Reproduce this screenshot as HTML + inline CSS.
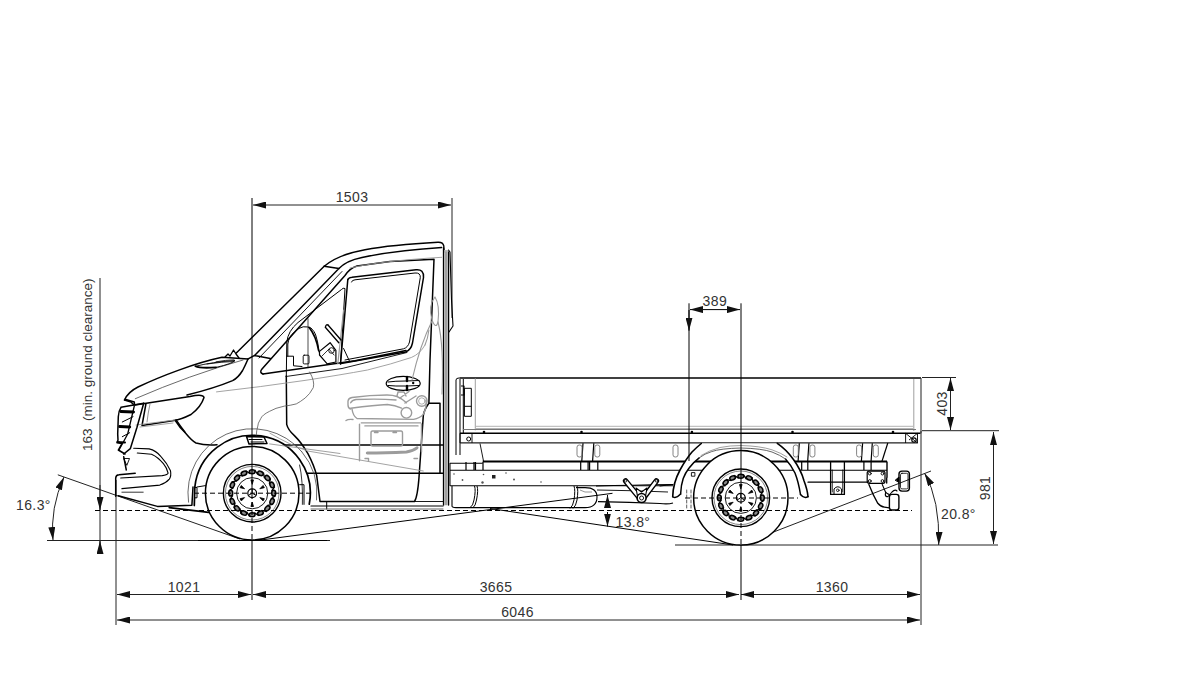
<!DOCTYPE html>
<html><head><meta charset="utf-8">
<style>
html,body{margin:0;padding:0;background:#fff;}
svg{display:block;}
text{font-family:"Liberation Sans",sans-serif;fill:#333;letter-spacing:0.4px;}
</style></head><body>
<svg width="1200" height="675" viewBox="0 0 1200 675">
<defs>
<marker id="ar" viewBox="0 0 13 7" refX="13" refY="3.5" markerWidth="13" markerHeight="7" markerUnits="userSpaceOnUse" orient="auto-start-reverse"><path d="M0,0L13,3.5L0,7z" fill="#111"/></marker>
</defs>
<g id="dims" stroke="#222" stroke-width="1" fill="none">
<!-- extension lines -->
<path d="M116,480V625M452,198V318M921,431V625M100,278V553"/>
<path d="M47,540.5H330M675,545H998M922,377.5H956M922,430.7H999"/>

<!-- dim lines -->
<path d="M253,205H451" marker-start="url(#ar)" marker-end="url(#ar)"/>
<path d="M117,594.5H251" marker-start="url(#ar)" marker-end="url(#ar)"/>
<path d="M253,594.5H739" marker-start="url(#ar)" marker-end="url(#ar)"/>
<path d="M741,594.5H920" marker-start="url(#ar)" marker-end="url(#ar)"/>
<path d="M117,620H920" marker-start="url(#ar)" marker-end="url(#ar)"/>
<path d="M950.5,378V430" marker-start="url(#ar)" marker-end="url(#ar)"/>
<path d="M993.5,432V544" marker-start="url(#ar)" marker-end="url(#ar)"/>
<path d="M100,485V510" marker-end="url(#ar)"/>
<path d="M100,553.5V541" marker-end="url(#ar)"/>
<path d="M57.8,474.8L240,539"/>
<path d="M64,477Q50,508 53,540" marker-start="url(#ar)" marker-end="url(#ar)"/>
<path d="M931,471L740,545"/>
<path d="M924.6,473.3Q940,500 938.7,545" marker-start="url(#ar)" marker-end="url(#ar)"/>
</g>
<g font-size="14">
<text x="352" y="201.5" text-anchor="middle">1503</text>
<text x="184" y="591.5" text-anchor="middle">1021</text>
<text x="496" y="591.5" text-anchor="middle">3665</text>
<text x="832" y="591.5" text-anchor="middle">1360</text>
<text x="517.5" y="616.5" text-anchor="middle">6046</text>
<text x="16" y="509.5">16.3°</text>
<text x="941" y="519">20.8°</text>
<text x="714.8" y="306" text-anchor="middle">389</text>
<text x="615.5" y="527">13.8°</text>
<text transform="translate(91.5,451) rotate(-90)" xml:space="preserve" style="letter-spacing:0;font-size:13.5px">163  (min. ground clearance)</text>
<text transform="translate(946.8,403.5) rotate(-90)" text-anchor="middle">403</text>
<text transform="translate(990,488) rotate(-90)" text-anchor="middle">981</text>
</g>

<g id="truck" fill="none" stroke="#000" stroke-linecap="round" stroke-linejoin="round">
<!-- ===== CAB thick ===== -->
<g stroke-width="1.5">
<path d="M124.5,400 Q128,392 138,387 C160,376.5 195,363 222,357.3 L248,359.1"/>
<path d="M124.5,400 L131,402 L134,405"/>
<path d="M247.7,359.8 Q245,366 242.6,370.5 Q238,378 232.6,380.6 Q215,388 187,395"/>
<path d="M135,405 L190,396.5 Q203,393.5 204,397.5 Q201,407 191,414.5 Q181,419.5 174,420.5 L142,425.5 L146,403.5"/>
<path d="M175.3,420.5 Q180,428 185,432.5 Q192,441 196,443 Q205,445.5 217,444.7"/>
<path d="M236.3,353 L324.2,266.3"/>
<path d="M247.7,359.2 L254.6,355.4 L338.9,268.6 M324.2,266.3 L338.9,268.6 M254.6,355.4 L270.3,358.6"/>
<path d="M324.2,266.3 C335,257 350,252.5 365,249.8 C385,246 410,243.8 437.9,242.3 Q443,242 443.8,246 L444,252" stroke-width="1.4"/>
<path d="M338.9,268.6 C345,262 352,259.5 362,257.5 C385,252.5 410,249.5 441.7,247.5" stroke-width="1.4"/>
<path d="M263,374 Q259,372.5 262,369 L345,275.5 Q350,268 357,266 L390,261.4 L434,259.3 L430,360 L428.9,403.3 Q424,410 423.3,415.6 L419,477.5 Q417.5,497 414.5,501.5 H320 L316.7,475.6 Q314,465 307.8,453.3 Q301,442 294.4,435.6 Q288,430 286.7,424.4 L286.3,376"/>
<path d="M263,374 L355,360.7 L406,350.5"/>
<path d="M347.8,279.5 Q349,277.5 352,277.3 L416,269.8 Q424,269 423.5,277.5 L412.5,343 Q411,350 405.6,352 L341,363.5"/>
<path d="M347.8,279.5 L340.5,364"/>
<path d="M428.9,403.3 H440 V473"/>
<path d="M443.6,248 V505 M448.5,252 V505"/>
<path d="M414.5,501.5 H443" stroke-width="0.9"/>
<path d="M311,506 H443" stroke-width="1.2"/>
<path d="M326.7,501.5 V509" stroke-width="1"/>
<path d="M284.4,445.1 H443.3 M306.7,473.3 H443.3"/>
</g>
<g stroke-width="1">
<path d="M286.3,376 L286.8,342 Q288,331 298,322.5 L341.5,289.5 Q343,287.5 345,288.5 L340.5,364"/>
<path d="M343.6,310 L337.8,363.9" stroke="#999" stroke-width="1.2"/>
<rect x="444.2" y="250" width="3.7" height="255" fill="#bbb" stroke="none"/>
<path d="M446,252 V505" stroke="#777" stroke-width="0.8"/>
<path d="M259,358 L342,271.5" stroke-width="0.9"/>
<path d="M448.5,250 L450,252 L451.5,300 L453,326 L449,332" stroke-width="1.1"/>
<path d="M351.5,282 Q352,280 355,279.8 L415,273 Q420.5,272.5 420.3,277.5 L409.5,342 Q408,347.5 403.5,348.8 L345,360"/>
<path d="M311,509 H443" stroke="#555" stroke-width="0.9"/>
<path d="M135.3,398.7 Q190,375 243,360" stroke="#444" stroke-width="0.8"/>
<path d="M150,404 Q148,413 147,422" stroke="#666" stroke-width="0.7"/>
</g>
<g stroke="#999" stroke-width="0.9">
<path d="M350,268 Q380,261 441.7,257.3"/>
<path d="M270,433.3 Q290,445 307.8,451 L423.3,471"/>
<path d="M216.5,391.9 Q260,387 305,380.4 Q340,375 367.5,370 Q392,364 411.3,357.5 Q420,354 425,345"/>
<path d="M175,420 L136,425 M140,427 L173,423"/>
</g>
</g>

<g id="front" fill="none" stroke="#000" stroke-linecap="round" stroke-linejoin="round">
<g stroke-width="1.5">
<path d="M125,399.3 L134.3,402 L134.5,404.5 M121,407.3 L143.7,403.3 M121,407.3 Q118.5,411 118.3,416.7 L117.7,434 L118,440 L117,442.7 L122,443.5 L118.3,450 L125,454 M123.7,456.7 L126.3,470"/>
<path d="M143.7,403.3 L137,427.3 L130.3,448.7 L123.7,454"/>
<path d="M121,411.5 L133.5,412 M119.7,426.5 L129.7,427" stroke-width="3"/>
<path d="M117.5,442 L125,442.5" stroke-width="2"/>
<path d="M115.7,496.3 V478 Q116,475 119,474.8 L135.2,473.2"/>
<path d="M118.3,495.8 L157.4,506.4 L191.9,505.2 L193,487"/>
<path d="M169.3,507.6 L208.5,512.4" stroke-width="1.8"/>
<path d="M176.1,419.9 Q181,427 185,432.3"/>
</g>
<g stroke-width="1">
<path d="M134.3,406 L127.7,434 L119,450" stroke-width="1.3"/>
<path d="M122.3,422 L133,416.7 M122.3,436.7 L129.7,432.7"/>
<path d="M121.9,492.2 L143.2,492.2" stroke-width="0.8"/>

<path d="M133.7,448.3 L149.1,448.9 Q156,450.5 161,456.6 Q167,463 170.5,470.8 Q171.5,476 169.3,479.1 Q166,483 159.8,485.1 L121.9,488.6" stroke-width="1.1"/>
<path d="M137.3,453 L151.5,454.2 Q158,457 163.4,463.7 Q167,468 168.1,473.2 Q167,475 162.2,475.6 L120.7,478" stroke-width="1.1"/>
<path d="M124,458.5 L129.5,458.5 L127,465 Z" stroke-width="0.9"/>
</g>

</g>


<g id="arch" fill="none" stroke="#000" stroke-linecap="round" stroke-linejoin="round">
<path d="M194.3,505.6 L194.82,487.15 A57.9,57.9 0 1 1 309.24,504.25" stroke-width="1.7"/>
<path d="M188.53,502.18 A64.5,64.5 0 0 1 301.81,451.74" stroke="#444" stroke-width="0.8"/>
<path d="M301.81,451.74 A64.5,64.5 0 0 1 316.55,499.94" stroke="#444" stroke-width="0.8"/>
<path d="M299.6,465 Q303,480 302.4,504.4" stroke-width="0.8"/>
<path d="M194.5,487.5 H197 V497.8 H194.5 M197,487 L205.5,485.6 M299.6,484.7 H304 V504.4" stroke-width="1"/>
<path d="M246.5,436.5 L264,437 L267,443.5 L249,444 Z" stroke-width="1.5"/>
<path d="M249,439.5 H262 M251,442 H264" stroke-width="1"/>
<path d="M269.6,443.9 L340,453.5" stroke="#888" stroke-width="0.8"/>
</g>

<g id="bed" fill="none" stroke="#000" stroke-linecap="butt" stroke-linejoin="round">
<!-- bed box -->
<path d="M459.3,378 H921" stroke-width="1.6"/>
<path d="M921,378 V433.3" stroke="#333" stroke-width="1.1"/>
<path d="M456,380 Q456,378 459,378" stroke-width="1"/>
<path d="M456,380 V455 M460,379 V455 M463.3,379 V433" stroke-width="1"/>
<path d="M475.3,378 V430.3" stroke="#888" stroke-width="0.8"/>
<path d="M913.8,379 V431" stroke="#888" stroke-width="0.8"/>
<path d="M464.4,388.3 H471.3 V416.3 H464.4 Z M464.4,406.3 H471.3" stroke-width="1"/>
<path d="M461,386 H464 V395 H461" stroke-width="1.2"/>
<path d="M476,426.3 H913 M476,428.5 H913" stroke="#aaa" stroke-width="0.9"/>
<path d="M463,429.5 H916" stroke="#777" stroke-width="1"/>
<path d="M460,433.3 H920.4" stroke-width="1.4"/>
<path d="M460,442.9 H917.5" stroke="#222" stroke-width="1.1"/>
<path d="M460,433.3 V442.9 M472,433.3 V442.9" stroke-width="0.9"/>
<circle cx="468.7" cy="439" r="2" stroke-width="1"/>
<path d="M905.6,433.3 V443 M917.5,433.3 V443 M905.6,433.3 L917.5,443 M917.5,433.3 L909,440" stroke-width="0.9"/>
<circle cx="914" cy="440" r="2.2" stroke-width="1.2"/>
<g fill="#000" stroke="none"><circle cx="484" cy="432" r="1.3"/><circle cx="581.5" cy="432" r="1.3"/><circle cx="691.9" cy="432" r="1.3"/><circle cx="792.5" cy="432" r="1.3"/><circle cx="893" cy="432" r="1.3"/></g>
<!-- posts under bed -->
<g>
<path d="M480,443.5 L483.5,461" stroke-width="0.9"/>
<path d="M583,443.3 L581.8,461 M593.8,443.3 L592.5999999999999,461" stroke-width="1.2"/>
<rect x="577" y="445" width="5" height="12" rx="2.2" stroke="#777" stroke-width="0.9"/>
<rect x="594.8" y="445" width="5" height="12" rx="2.2" stroke="#777" stroke-width="0.9"/>
<path d="M799.3,443.3 L798.0999999999999,461 M808.9,443.3 L807.6999999999999,461" stroke-width="1.2"/>
<rect x="793.3" y="445" width="5" height="12" rx="2.2" stroke="#777" stroke-width="0.9"/>
<rect x="809.9" y="445" width="5" height="12" rx="2.2" stroke="#777" stroke-width="0.9"/>
<path d="M862.6,443.3 L861.4,461 M872.3,443.3 L871.0999999999999,461" stroke-width="1.2"/>
<rect x="856.6" y="445" width="5" height="12" rx="2.2" stroke="#777" stroke-width="0.9"/>
<rect x="873.3" y="445" width="5" height="12" rx="2.2" stroke="#777" stroke-width="0.9"/>
<rect x="673" y="445" width="5" height="12" rx="2.2" stroke="#777" stroke-width="0.9"/>
<path d="M887.8,443 L881.9,461.5" stroke-width="1.2"/>
</g>
<!-- subframe -->
<path d="M482.7,461.5 H887" stroke-width="2"/>
<path d="M450,463.2 H482.7 M450,470.2 H887" stroke-width="1.1"/>
<path d="M887,461.5 V477.8" stroke-width="1.4"/>
<path d="M466,462 V470 M474,462 V470 M475.5,462 V470 M483,462 V470 M580.7,462 V470 M588.1,462 V470 M589.6,462 V470 M597.8,462 V470 M801.7,462 V470 M807.8,462 V470 M863.9,462 V470 M871.1,462 V470" stroke-width="1.2"/>
<!-- frame -->
<path d="M450,485.7 H673" stroke-width="1.1"/>
<path d="M450,463 V486" stroke-width="1"/>
<g fill="#555" stroke="none"><rect x="492" y="475" width="3.5" height="3.5" fill="#222"/><circle cx="454" cy="474" r="0.8"/><circle cx="462.5" cy="480" r="0.9"/><circle cx="483.5" cy="474.5" r="0.8"/><circle cx="482.5" cy="482.5" r="1.2"/><circle cx="506" cy="473" r="0.8"/><circle cx="514" cy="479.5" r="1"/><circle cx="541" cy="482" r="0.8"/></g>
<!-- tank -->
<path d="M452,486 V506 Q452,507.6 456,507.6 H585 Q597,507.6 597,497 Q597,487.6 585,487.6 H576" stroke-width="1.1"/>
<path d="M474.5,486 Q476,490 474,500 Q473,506 470,507.6 M477,486 Q478.5,490 476.5,500 Q475.5,506 473,507.6" stroke-width="1"/>
<path d="M574,486 Q575.5,490 574,500 Q573,506 570,508.5 M577,486 Q578.5,490 577,500 Q576,506 573,508.5" stroke-width="1"/>
<path d="M580,490 L585,492 H592" stroke="#666" stroke-width="0.7"/>
<!-- leaf spring / rear chassis -->
<path d="M596,486 Q630,485 673,484.5" stroke-width="1.2"/>
<path d="M597,490 Q635,490.5 668,492" stroke-width="0.9"/>
<path d="M598,501.6 Q630,502 660,503.5 Q668,504.5 673,503" stroke-width="1.2"/>
<path d="M625.6,480.9 L638,496 M656.4,480.9 L645,496" stroke-width="5.5" stroke-linecap="round"/>
<path d="M625.6,480.9 L638,496 M656.4,480.9 L645,496" stroke="#fff" stroke-width="2.8" stroke-linecap="round"/>
<path d="M636,488 L641.5,492 L647,488 L645,499 H638 Z" fill="#fff" stroke-width="1.1"/>
<circle cx="641.6" cy="498" r="4.5" stroke-width="1.6" fill="#fff"/>
<circle cx="641.6" cy="498" r="2" stroke-width="0.9"/>
<circle cx="625.6" cy="480.9" r="1.2" stroke-width="0.8"/>
<circle cx="656.4" cy="480.9" r="1.2" stroke-width="0.8"/>
<path d="M697,463 L680,469.6 H700" stroke-width="0"/>
<rect x="691.4" y="472.6" width="3.5" height="3.6" stroke-width="0.9"/>
</g>

<g id="rear" fill="none" stroke="#000" stroke-linecap="round" stroke-linejoin="round">
<!-- rear fender -->
<path d="M672.7,496.7 Q673,483 680,470 Q686,459 692,452 Q697,447 701.3,443.5 H777.3 Q787,450 793.3,459.3 Q801,470 804,480.7 Q807.5,490 808,496.7 Q804,499 800.5,494.5 Q798.5,482 795,473 Q791,465 785.5,459 Q780,455 772,452 Q762,448.5 741,448 Q720,448.5 711.7,451.6 Q705,453.5 699.2,457.8 Q693.5,462 688.9,468.2 Q685.5,472.5 683.2,478.6 Q681,485 680.6,494.1 Q676,499 672.7,496.7 Z" fill="#fff" stroke="none"/>
<path d="M672.7,496.7 Q673,483 680,470 Q686,459 692,452 Q697,447 701.3,443.5" stroke-width="1.6"/>
<path d="M777.3,443.3 Q787,450 793.3,459.3 Q801,470 804,480.7 Q807.5,490 808,496.7" stroke-width="1.6"/>
<path d="M680.6,494.1 Q681,485 683.2,478.6 Q685.5,472.5 688.9,468.2 Q693.5,462 699.2,457.8 M785.5,459 Q791,465 795,473 Q798.5,482 800.5,494.5" stroke-width="1.5"/>
<path d="M699.2,457.8 Q705,453.5 711.7,451.6 Q720,448.5 741,448 Q762,448.5 772,452 Q780,455 785.5,459" stroke="#555" stroke-width="0.9"/>
<path d="M701,455.5 Q709,450.5 720,447.5 Q730,445.5 741,445.5 Q760,446 772,449.8 Q781,453 787,457" stroke="#777" stroke-width="0.7"/>
<path d="M672.7,496.7 Q676,499 680.6,494.1 M808,496.7 Q804,499 800.5,494.5" stroke-width="1.4"/>

<!-- frame behind wheel -->
<path d="M808,482.2 H867.8" stroke-width="1.2"/>
<path d="M660,486 Q667,485 673,484.5" stroke-width="1"/>
<path d="M686.7,490 V508 M691,490 V508" stroke="#333" stroke-width="0.8" stroke-dasharray="3,2"/>
<!-- crossmember hanger -->
<path d="M830.6,462.5 V494.4 H844.4 V462.5" stroke-width="1.3"/>
<path d="M832.3,470 V492 M842.7,470 V492" stroke-width="0.8"/>
<path d="M834,494 V489 Q837.8,484.5 841.6,489 V494" stroke-width="1"/>
<circle cx="837.8" cy="490.3" r="1.3" stroke-width="0.8"/>
<!-- hitch plate -->
<rect x="867.2" y="471.1" width="17.8" height="12.2" rx="2" stroke-width="1.2"/>
<g stroke-width="0.9"><circle cx="869.8" cy="473.6" r="1.4"/><circle cx="882.5" cy="473.6" r="1.4"/><circle cx="869.8" cy="481" r="1.4"/><circle cx="882.5" cy="481" r="1.4"/></g>
<path d="M886.7,477.8 V483" stroke-width="1.3"/>
<path d="M868.9,484.4 Q873,495 877.8,503.3 Q881,507 884.4,507.2 L889.4,507.8" stroke-width="1.3"/>
<path d="M882.2,484.4 L885.6,492.2 Q887,494 889,494.4" stroke-width="1.1"/>
<path d="M885.6,492 Q884.5,497.5 888,496.5 L892,492 Q895,489 897,491" stroke-width="1.1"/>
<rect x="889.4" y="494.4" width="9.5" height="15.6" rx="2.5" stroke-width="1.4"/>
<rect x="899" y="471.1" width="10.4" height="20" rx="3" stroke-width="1.4"/>
<rect x="900.5" y="473.3" width="7.5" height="15.6" rx="1.5" stroke-width="0.8"/>
<path d="M895.5,480 L899,477 V482 Z" stroke-width="1" fill="#000"/>
</g>
<g id="wheels" fill="none" stroke="#000">
<circle cx="252.2" cy="493.2" r="46.8" stroke-width="1.5" fill="#fff"/>
<circle cx="252.2" cy="493.2" r="28.8" stroke-width="1.4"/>
<circle cx="252.2" cy="493.2" r="26.8" stroke-width="0.8" stroke="#666"/>
<circle cx="252.2" cy="493.2" r="15.6" stroke-width="0.9"/>
<circle cx="252.2" cy="493.2" r="4.4" stroke-width="1.2"/>
<path d="M252.2,493.2L252.20,488.80M252.2,493.2L256.01,495.40M252.2,493.2L248.39,495.40" stroke-width="1"/>
<ellipse cx="252.20" cy="471.70" rx="2.9" ry="2.0" transform="rotate(0.0 252.20 471.70)" stroke-width="1.5" fill="#888"/>
<path d="M254.69,469.83L257.71,474.49" stroke-width="1.3"/>
<ellipse cx="260.43" cy="473.34" rx="2.9" ry="2.0" transform="rotate(22.5 260.43 473.34)" stroke-width="1.5" fill="#888"/>
<path d="M263.45,472.57L264.45,478.03" stroke-width="1.3"/>
<ellipse cx="267.40" cy="478.00" rx="2.9" ry="2.0" transform="rotate(45.0 267.40 478.00)" stroke-width="1.5" fill="#888"/>
<path d="M270.49,478.44L269.32,483.87" stroke-width="1.3"/>
<ellipse cx="272.06" cy="484.97" rx="2.9" ry="2.0" transform="rotate(67.5 272.06 484.97)" stroke-width="1.5" fill="#888"/>
<path d="M274.74,486.56L271.59,491.13" stroke-width="1.3"/>
<ellipse cx="273.70" cy="493.20" rx="2.9" ry="2.0" transform="rotate(90.0 273.70 493.20)" stroke-width="1.5" fill="#888"/>
<path d="M275.57,495.69L270.91,498.71" stroke-width="1.3"/>
<ellipse cx="272.06" cy="501.43" rx="2.9" ry="2.0" transform="rotate(112.5 272.06 501.43)" stroke-width="1.5" fill="#888"/>
<path d="M272.83,504.45L267.37,505.45" stroke-width="1.3"/>
<ellipse cx="267.40" cy="508.40" rx="2.9" ry="2.0" transform="rotate(135.0 267.40 508.40)" stroke-width="1.5" fill="#888"/>
<path d="M266.96,511.49L261.53,510.32" stroke-width="1.3"/>
<ellipse cx="260.43" cy="513.06" rx="2.9" ry="2.0" transform="rotate(157.5 260.43 513.06)" stroke-width="1.5" fill="#888"/>
<path d="M258.84,515.74L254.27,512.59" stroke-width="1.3"/>
<ellipse cx="252.20" cy="514.70" rx="2.9" ry="2.0" transform="rotate(180.0 252.20 514.70)" stroke-width="1.5" fill="#888"/>
<path d="M249.71,516.57L246.69,511.91" stroke-width="1.3"/>
<ellipse cx="243.97" cy="513.06" rx="2.9" ry="2.0" transform="rotate(202.5 243.97 513.06)" stroke-width="1.5" fill="#888"/>
<path d="M240.95,513.83L239.95,508.37" stroke-width="1.3"/>
<ellipse cx="237.00" cy="508.40" rx="2.9" ry="2.0" transform="rotate(225.0 237.00 508.40)" stroke-width="1.5" fill="#888"/>
<path d="M233.91,507.96L235.08,502.53" stroke-width="1.3"/>
<ellipse cx="232.34" cy="501.43" rx="2.9" ry="2.0" transform="rotate(247.5 232.34 501.43)" stroke-width="1.5" fill="#888"/>
<path d="M229.66,499.84L232.81,495.27" stroke-width="1.3"/>
<ellipse cx="230.70" cy="493.20" rx="2.9" ry="2.0" transform="rotate(270.0 230.70 493.20)" stroke-width="1.5" fill="#888"/>
<path d="M228.83,490.71L233.49,487.69" stroke-width="1.3"/>
<ellipse cx="232.34" cy="484.97" rx="2.9" ry="2.0" transform="rotate(292.5 232.34 484.97)" stroke-width="1.5" fill="#888"/>
<path d="M231.57,481.95L237.03,480.95" stroke-width="1.3"/>
<ellipse cx="237.00" cy="478.00" rx="2.9" ry="2.0" transform="rotate(315.0 237.00 478.00)" stroke-width="1.5" fill="#888"/>
<path d="M237.44,474.91L242.87,476.08" stroke-width="1.3"/>
<ellipse cx="243.97" cy="473.34" rx="2.9" ry="2.0" transform="rotate(337.5 243.97 473.34)" stroke-width="1.5" fill="#888"/>
<path d="M245.56,470.66L250.13,473.81" stroke-width="1.3"/>
<path d="M253.50,479.90L250.90,479.90L252.20,484.40Z" stroke-width="0.8" fill="#000"/>
<path d="M264.37,487.68L263.07,485.42L259.82,488.80Z" stroke-width="0.8" fill="#000"/>
<path d="M263.07,500.98L264.37,498.72L259.82,497.60Z" stroke-width="0.8" fill="#000"/>
<path d="M250.90,506.50L253.50,506.50L252.20,502.00Z" stroke-width="0.8" fill="#000"/>
<path d="M240.03,498.72L241.33,500.98L244.58,497.60Z" stroke-width="0.8" fill="#000"/>
<path d="M241.33,485.42L240.03,487.68L244.58,488.80Z" stroke-width="0.8" fill="#000"/>
<circle cx="740.8" cy="497.8" r="47.2" stroke-width="1.5" fill="#fff"/>
<circle cx="740.8" cy="497.8" r="28.8" stroke-width="1.4"/>
<circle cx="740.8" cy="497.8" r="26.8" stroke-width="0.8" stroke="#666"/>
<circle cx="740.8" cy="497.8" r="15.6" stroke-width="0.9"/>
<circle cx="740.8" cy="497.8" r="4.4" stroke-width="1.2"/>
<path d="M740.8,497.8L740.80,493.40M740.8,497.8L744.61,500.00M740.8,497.8L736.99,500.00" stroke-width="1"/>
<ellipse cx="740.80" cy="476.30" rx="2.9" ry="2.0" transform="rotate(0.0 740.80 476.30)" stroke-width="1.5" fill="#888"/>
<path d="M743.29,474.43L746.31,479.09" stroke-width="1.3"/>
<ellipse cx="749.03" cy="477.94" rx="2.9" ry="2.0" transform="rotate(22.5 749.03 477.94)" stroke-width="1.5" fill="#888"/>
<path d="M752.05,477.17L753.05,482.63" stroke-width="1.3"/>
<ellipse cx="756.00" cy="482.60" rx="2.9" ry="2.0" transform="rotate(45.0 756.00 482.60)" stroke-width="1.5" fill="#888"/>
<path d="M759.09,483.04L757.92,488.47" stroke-width="1.3"/>
<ellipse cx="760.66" cy="489.57" rx="2.9" ry="2.0" transform="rotate(67.5 760.66 489.57)" stroke-width="1.5" fill="#888"/>
<path d="M763.34,491.16L760.19,495.73" stroke-width="1.3"/>
<ellipse cx="762.30" cy="497.80" rx="2.9" ry="2.0" transform="rotate(90.0 762.30 497.80)" stroke-width="1.5" fill="#888"/>
<path d="M764.17,500.29L759.51,503.31" stroke-width="1.3"/>
<ellipse cx="760.66" cy="506.03" rx="2.9" ry="2.0" transform="rotate(112.5 760.66 506.03)" stroke-width="1.5" fill="#888"/>
<path d="M761.43,509.05L755.97,510.05" stroke-width="1.3"/>
<ellipse cx="756.00" cy="513.00" rx="2.9" ry="2.0" transform="rotate(135.0 756.00 513.00)" stroke-width="1.5" fill="#888"/>
<path d="M755.56,516.09L750.13,514.92" stroke-width="1.3"/>
<ellipse cx="749.03" cy="517.66" rx="2.9" ry="2.0" transform="rotate(157.5 749.03 517.66)" stroke-width="1.5" fill="#888"/>
<path d="M747.44,520.34L742.87,517.19" stroke-width="1.3"/>
<ellipse cx="740.80" cy="519.30" rx="2.9" ry="2.0" transform="rotate(180.0 740.80 519.30)" stroke-width="1.5" fill="#888"/>
<path d="M738.31,521.17L735.29,516.51" stroke-width="1.3"/>
<ellipse cx="732.57" cy="517.66" rx="2.9" ry="2.0" transform="rotate(202.5 732.57 517.66)" stroke-width="1.5" fill="#888"/>
<path d="M729.55,518.43L728.55,512.97" stroke-width="1.3"/>
<ellipse cx="725.60" cy="513.00" rx="2.9" ry="2.0" transform="rotate(225.0 725.60 513.00)" stroke-width="1.5" fill="#888"/>
<path d="M722.51,512.56L723.68,507.13" stroke-width="1.3"/>
<ellipse cx="720.94" cy="506.03" rx="2.9" ry="2.0" transform="rotate(247.5 720.94 506.03)" stroke-width="1.5" fill="#888"/>
<path d="M718.26,504.44L721.41,499.87" stroke-width="1.3"/>
<ellipse cx="719.30" cy="497.80" rx="2.9" ry="2.0" transform="rotate(270.0 719.30 497.80)" stroke-width="1.5" fill="#888"/>
<path d="M717.43,495.31L722.09,492.29" stroke-width="1.3"/>
<ellipse cx="720.94" cy="489.57" rx="2.9" ry="2.0" transform="rotate(292.5 720.94 489.57)" stroke-width="1.5" fill="#888"/>
<path d="M720.17,486.55L725.63,485.55" stroke-width="1.3"/>
<ellipse cx="725.60" cy="482.60" rx="2.9" ry="2.0" transform="rotate(315.0 725.60 482.60)" stroke-width="1.5" fill="#888"/>
<path d="M726.04,479.51L731.47,480.68" stroke-width="1.3"/>
<ellipse cx="732.57" cy="477.94" rx="2.9" ry="2.0" transform="rotate(337.5 732.57 477.94)" stroke-width="1.5" fill="#888"/>
<path d="M734.16,475.26L738.73,478.41" stroke-width="1.3"/>
<path d="M742.10,484.50L739.50,484.50L740.80,489.00Z" stroke-width="0.8" fill="#000"/>
<path d="M752.97,492.28L751.67,490.02L748.42,493.40Z" stroke-width="0.8" fill="#000"/>
<path d="M751.67,505.58L752.97,503.32L748.42,502.20Z" stroke-width="0.8" fill="#000"/>
<path d="M739.50,511.10L742.10,511.10L740.80,506.60Z" stroke-width="0.8" fill="#000"/>
<path d="M728.63,503.32L729.93,505.58L733.18,502.20Z" stroke-width="0.8" fill="#000"/>
<path d="M729.93,490.02L728.63,492.28L733.18,493.40Z" stroke-width="0.8" fill="#000"/>
</g>
<g id="overlines" fill="none" stroke="#000" stroke-width="1">
<path d="M252,198V493M741,303.3V498"/>
<path d="M252,494V540M741,499V545" stroke-dasharray="5,3"/>
<path d="M252,540V600M741,545V600"/>
<path d="M95,510.5H912" stroke-dasharray="5,3"/>
<path d="M194,493.2H311M685,498H798" stroke-dasharray="5,3"/>
</g>
<g id="angles" fill="none" stroke="#000" stroke-width="1">
<path d="M258,540.4 L612.5,493.3"/>
<path d="M490,508.5 L733,545"/>
<path d="M198,540.5 H327" />
<path d="M607.5,508 V495" marker-end="url(#ar)"/>
<path d="M607.5,512 V526.5" marker-end="url(#ar)"/>
<!-- 389 dim -->
<path d="M690,309.6 H740" marker-start="url(#ar)" marker-end="url(#ar)"/>
<path d="M689,303.3 V461"/>
<path d="M689,310 V330.7" marker-end="url(#ar)"/>
</g>

<g id="details" fill="none" stroke="#000" stroke-linecap="round" stroke-linejoin="round">
<!-- hood vent & wiper -->
<path d="M195.4,366.3 Q200,368.5 216,367.4" stroke-width="1.8"/>
<path d="M195.4,366.3 Q212,362 235,360.5 Q233,363.5 216,367.4" stroke-width="0.9"/>
<path d="M207,364 Q222,361.8 234,361.5 M216,361.8 Q226,360 234,359.8" stroke-width="0.8"/>
<path d="M225,357 L228,354 L230,356 L233.5,350 L236,354 L239,358" stroke-width="1.3"/>
<!-- mirror / seat through window -->
<path d="M287.8,356.2 V344 Q289,336 294.5,332 Q299,327.5 303.2,326.8 Q308,326.5 311,328 Q315,332 315.7,335 Q318,342 318.6,348.5 L319,352" stroke-width="1"/>
<path d="M309,327.3 Q316,336 318.6,350.4" stroke-width="1.7"/>
<path d="M308,318.7 V367.7" stroke-width="0.7"/>
<path d="M286.8,356.2 H293.5 V365.8 L302,366.5" stroke-width="1"/>
<rect x="303.2" y="355.2" width="5.8" height="8.7" rx="1" stroke-width="0.9"/>
<path d="M325.3,327.3 L338.8,342.7 M328,325 L341,340" stroke-width="1.3"/>
<path d="M325.5,327 Q326,324 328,325" stroke-width="1.3"/>
<path d="M319.5,351.4 L330.1,342.7 L335.9,350.4 V362 L327.2,363.9 L319.5,355 Z" stroke-width="1.2"/>
<path d="M322,356 L329,349 L334,355" stroke-width="0.8"/>
<circle cx="331.5" cy="350.5" r="2.8" stroke-width="0.9"/>
<path d="M343.6,348.5 L349.4,361" stroke-width="1"/>
<path d="M286,376.5 L342,368.5 L407,352.5" stroke-width="0.9"/>
<!-- door handle -->
<ellipse cx="403.2" cy="383.4" rx="17" ry="7" stroke-width="1.2"/>
<path d="M388,382 Q395,381 406,381 L419,380.5 M388,385.5 Q395,386.3 406,386 L419,385.5" stroke-width="1"/>
<path d="M407,377 V381 M407,386 V390" stroke-width="2.4"/>
<circle cx="413.2" cy="383" r="1.2" fill="#000" stroke="none"/>
</g>
<g id="gray" fill="none" stroke="#9a9a9a" stroke-width="1.1" stroke-linecap="round" stroke-linejoin="round">
<path d="M425,345 Q428,338 428.9,330"/>
<path d="M435,297 Q428,305 432,320 Q436,330 438,322 Q440,305 435,297"/>
<path d="M432,321 Q420,345 412,380 M438,322 Q444,345 442,394"/>
<g stroke="#9c9c9c" stroke-width="1.4">
<path d="M350.5,409 Q348,408 348,405 V401 Q348.5,398 352,397.5 Q370,395 387,395 Q393,395 397,396.5 Q402,398.5 406.4,402.8"/>
<path d="M350.7,402.8 Q352,400 356,399.5 Q380,398.5 396,400"/>
<path d="M350.7,408.2 Q375,405 387.4,404.5 Q395,405 401.6,408.1"/>
<path d="M352,409 Q353,416 357,418.5 L413.5,419.4 Q420,418 423,414.6 Q427,408 426,400"/>
<circle cx="406.4" cy="412.8" r="5.3"/>
<circle cx="421.8" cy="401" r="5.3"/>
<circle cx="421.8" cy="401" r="3.2" stroke-width="0.8"/>
<path d="M397,396 L398,392 H404 L406,396 M400,398 L409,391.5 M405,403 L416,396"/>
<path d="M346,420.5 Q348,419 353,419.5 M361.3,422.9 H420.6 M364.9,425.9 H418"/>
<path d="M359.5,424.1 V460.8 M421.5,424 V452"/>
<path d="M372.5,431 H401 Q402.5,431 402.5,433 V444.5 Q402.5,446 401,446 H372.5 Q371,446 371,444.5 V433 Q371,431 372.5,431 Z M374.5,432.5 H378 M393,432.5 H396.5"/>
<path d="M367.3,453.1 Q385,453 406.4,451.9 Q413,451 417,447.8" stroke-width="3"/>
<path d="M365,458.5 H368.5 V461 M414,458.5 H417.5"/>
</g>
<path d="M309.6,372 Q315,381 313.3,387.6 Q310,394 305.2,398 Q300,402 296.3,403.9 Q290,405.5 284.4,406.1 Q275,408 269.6,411.3 Q262,415 260.7,418.7 Q257.5,424 257.8,426.1 Q256.5,430 256.3,435" stroke="#555" stroke-width="0.8"/>

</g>
</svg>
</body></html>
